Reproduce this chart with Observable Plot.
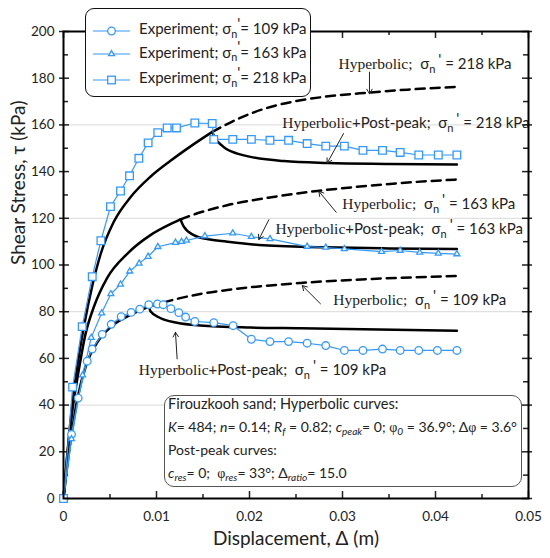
<!DOCTYPE html>
<html><head><meta charset="utf-8">
<script src="https://cdn.jsdelivr.net/npm/d3@7"></script>
<script src="https://cdn.jsdelivr.net/npm/@observablehq/plot@0.6"></script>
<style>
html,body{margin:0;padding:0;background:#fff}
#wrap{position:relative;width:550px;height:558px;font-family:Lato,"Open Sans",sans-serif;color:#222}
#wrap > svg{position:absolute;left:0;top:0}
.box{position:absolute;background:#fff;box-sizing:border-box}
.row{position:absolute;white-space:nowrap;height:18px;line-height:18px;display:block}
.row svg{vertical-align:middle}
.sub{font-size:0.72em;position:relative;top:0.32em}
.sup{position:relative;top:-0.35em}
.ser{font-family:"Liberation Serif",serif}
</style></head><body><div id="wrap"></div>
<script>
// ---------- data ----------
const stressLevels = [109, 163, 218];

const exp109X = [0, 0.00086, 0.00158, 0.00255, 0.00308, 0.00416, 0.00513, 0.0062, 0.00728, 0.0082, 0.00917, 0.0101, 0.01072, 0.01155, 0.0124, 0.01313, 0.01412, 0.01616, 0.01824, 0.0202, 0.0222, 0.0242, 0.0262, 0.0282, 0.0302, 0.0322, 0.0343, 0.0362, 0.0382, 0.0402, 0.0423];
const exp109Y = [0, 27.5, 43.0, 58.8, 64.0, 70.3, 74.6, 77.9, 79.7, 81.1, 83.0, 83.3, 83.0, 81.3, 79.6, 77.7, 75.8, 75.3, 74.0, 68.2, 67.2, 67.2, 66.5, 65.5, 63.4, 63.4, 64.0, 63.4, 63.4, 63.4, 63.4];

const exp163X = [0, 0.00086, 0.00205, 0.00298, 0.0041, 0.00509, 0.00613, 0.00712, 0.00813, 0.0091, 0.01014, 0.01204, 0.01269, 0.01322, 0.0152, 0.0182, 0.0202, 0.0222, 0.0262, 0.0282, 0.0302, 0.0342, 0.0362, 0.0383, 0.0403, 0.0423];
const exp163Y = [0, 25.5, 52.8, 68.9, 79.4, 87.6, 91.7, 97.3, 100.7, 103.6, 107.8, 109.6, 110.0, 110.5, 112.4, 113.6, 112.1, 111.2, 107.9, 107.5, 106.9, 105.7, 106.2, 105.4, 105.0, 104.7];

const exp218X = [0, 0.00098, 0.00201, 0.00309, 0.00402, 0.00505, 0.00613, 0.0071, 0.0081, 0.0091, 0.01014, 0.01115, 0.01215, 0.01412, 0.01599, 0.01616, 0.0182, 0.0202, 0.0222, 0.0242, 0.0262, 0.0282, 0.0302, 0.0322, 0.0343, 0.0362, 0.0382, 0.0403, 0.0423];
const exp218Y = [0, 47.7, 73.6, 95.0, 110.4, 125.0, 131.7, 138.2, 145.7, 152.3, 156.7, 158.7, 158.7, 160.8, 160.6, 153.8, 153.8, 153.8, 153.4, 153.4, 152.0, 150.9, 150.9, 149.1, 149.1, 148.2, 147.1, 147.1, 147.1];

// model curves
const hyp218X = [0, 0.0005, 0.001, 0.0015, 0.00219, 0.00309, 0.00398, 0.00541, 0.0072, 0.00935, 0.0115, 0.01366, 0.016];
const hyp218Y = [0, 23, 42, 57, 73.5, 91, 104.5, 118.5, 129, 137.8, 144.6, 150.8, 157.0];
const dash218X = [0.016, 0.019, 0.0219, 0.025, 0.028, 0.0327, 0.037, 0.0422];
const dash218Y = [157.0, 163.0, 167.3, 170.2, 172.0, 173.8, 175.1, 176.3];
const post218X = [0.016, 0.01616, 0.0172, 0.0187, 0.0201, 0.0237, 0.0284, 0.035, 0.0423];
const post218Y = [157.0, 155.4, 150.6, 147.7, 146.3, 144.5, 143.7, 143.3, 143.0];

const hyp163X = [0, 0.0005, 0.001, 0.0016, 0.00237, 0.00326, 0.0047, 0.00685, 0.00935, 0.0115, 0.01258];
const hyp163Y = [0, 22, 39, 54, 70.5, 82, 94.5, 104.8, 112.8, 117.5, 119.5];
const dash163X = [0.01258, 0.0133, 0.0176, 0.022, 0.0273, 0.033, 0.038, 0.0423];
const dash163Y = [119.5, 120.6, 125.6, 128.8, 131.7, 134.0, 135.6, 136.6];
const post163X = [0.01258, 0.01294, 0.014, 0.01545, 0.0176, 0.021, 0.028, 0.035, 0.0423];
const post163Y = [119.5, 116.4, 112.8, 111.1, 110.0, 108.6, 107.6, 107.1, 106.8];

const hyp109X = [0, 0.0005, 0.001, 0.00147, 0.00255, 0.0038, 0.0054, 0.0072, 0.0092];
const hyp109Y = [0, 17, 31, 42.3, 58.5, 67.9, 74.4, 78.6, 82.2];
const dash109X = [0.0092, 0.0104, 0.0147, 0.0176, 0.0255, 0.033, 0.0423];
const dash109Y = [82.2, 83.6, 87.6, 89.3, 92.3, 94.0, 95.3];
const post109X = [0.0092, 0.00935, 0.0104, 0.0122, 0.0147, 0.0201, 0.0255, 0.0423];
const post109Y = [82.2, 80.2, 77.3, 75.3, 74.1, 73.2, 72.9, 71.8];

// tick values
const xMajor = [0, 0.01, 0.02, 0.03, 0.04, 0.05];
const xMinor = [0.005, 0.015, 0.025, 0.035, 0.045];
const yMajor = [0, 20, 40, 60, 80, 100, 120, 140, 160, 180, 200];
const yMinor = [10, 30, 50, 70, 90, 110, 130, 150, 170, 190];
const yGrid = [40, 80, 120, 160];

// annotations
const annLabels = ["Hyperbolic;", "Hyperbolic+Post-peak;", "Hyperbolic;", "Hyperbolic+Post-peak;", "Hyperbolic;", "Hyperbolic+Post-peak;"];
const annStress = [218, 218, 163, 163, 109, 109];
const annX = [0.02957, 0.02352, 0.02997, 0.0228, 0.0290, 0.0081];
const annY = [186.2, 160.6, 126.0, 115.3, 84.8, 54.8];
const arrX1 = [0.0329, 0.03011, 0.02932, 0.02208, 0.02763, 0.01222];
const arrY1 = [182.6, 156.3, 122.6, 119.4, 83.4, 59.8];
const arrX2 = [0.0329, 0.02835, 0.02745, 0.0210, 0.02567, 0.01204];
const arrY2 = [173.3, 143.6, 131.6, 110.9, 91.2, 71.2];

// ---------- tables ----------
const zip = (xs, ys, extra) => xs.map((x, i) => ({x, y: ys[i], ...extra}));
const exp = [
  ...zip(exp109X, exp109Y, {s: 109}),
  ...zip(exp163X, exp163Y, {s: 163}),
  ...zip(exp218X, exp218Y, {s: 218})
];
const solid = [
  ...zip(hyp218X, hyp218Y, {c: "h218"}), ...zip(post218X, post218Y, {c: "p218"}),
  ...zip(hyp163X, hyp163Y, {c: "h163"}), ...zip(post163X, post163Y, {c: "p163"}),
  ...zip(hyp109X, hyp109Y, {c: "h109"}), ...zip(post109X, post109Y, {c: "p109"})
];
const dashed = [
  ...zip(dash218X, dash218Y, {c: "d218"}),
  ...zip(dash163X, dash163Y, {c: "d163"}),
  ...zip(dash109X, dash109Y, {c: "d109"})
];
const ann = annLabels.map((t, i) => ({t, s: annStress[i], x: annX[i], y: annY[i]}));
const arrows = arrX1.map((x1, i) => ({x1, y1: arrY1[i], x2: arrX2[i], y2: arrY2[i]}));

const blue = "#3399ff";
const pxX = 9300, pxY = 2.335; // approx px per unit, only for tick lengths
const tx = px => px / pxX, ty = px => px / pxY;

const chart = Plot.plot({
  width: 550, height: 558,
  marginLeft: 63, marginRight: 22, marginTop: 31, marginBottom: 60,
  style: {fontFamily: "Lato, 'Open Sans', sans-serif", fontSize: "13.5px", color: "#222", background: "white"},
  x: {domain: [0, 0.05]},
  y: {domain: [0, 200]},
  marks: [
    Plot.ruleY(yGrid, {stroke: "#d9d9d9", strokeWidth: 1}),
    // ticks
    Plot.ruleX(xMajor, {x: d => d, y1: 0, y2: ty(7), stroke: "#222", strokeWidth: 1.5}),
    Plot.ruleX(xMinor, {x: d => d, y1: 0, y2: ty(4), stroke: "#222", strokeWidth: 1.5}),
    Plot.ruleX(xMajor, {x: d => d, y1: 200, y2: 200 - ty(7), stroke: "#222", strokeWidth: 1.5}),
    Plot.ruleX(xMinor, {x: d => d, y1: 200, y2: 200 - ty(4), stroke: "#222", strokeWidth: 1.5}),
    Plot.ruleY(yMajor, {y: d => d, x1: -tx(4), x2: tx(6), stroke: "#222", strokeWidth: 1.5}),
    Plot.ruleY(yMinor, {y: d => d, x1: 0, x2: tx(5), stroke: "#222", strokeWidth: 1.5}),
    Plot.ruleY(yMajor, {y: d => d, x1: 0.05 - tx(6), x2: 0.05 + tx(4), stroke: "#222", strokeWidth: 1.5}),
    Plot.ruleY(yMinor, {y: d => d, x1: 0.05 - tx(5), x2: 0.05, stroke: "#222", strokeWidth: 1.5}),
    Plot.axisX({ticks: xMajor, tickSize: 0, tickPadding: 13, label: null, tickFormat: d => d === 0 ? "0" : d.toFixed(2)}),
    Plot.axisY({ticks: yMajor, tickSize: 0, tickPadding: 9, label: null, tickFormat: d => String(d)}),
    Plot.text(["Displacement, \u0394 (m)"], {frameAnchor: "bottom", dy: 46, fontSize: 19, fill: "#222"}),
    Plot.text(["Shear Stress, \u03c4 (kPa)"], {frameAnchor: "left", dx: -45, rotate: -90, fontSize: 19, fill: "#222"}),
    // model curves
    Plot.line(dashed, {x: "x", y: "y", z: "c", stroke: "black", strokeWidth: 2.5, strokeDasharray: "9,6", curve: "monotone-x"}),
    Plot.line(solid, {x: "x", y: "y", z: "c", stroke: "black", strokeWidth: 2.5, curve: "monotone-x"}),
    // experiments
    Plot.line(exp, {x: "x", y: "y", z: "s", stroke: blue, strokeWidth: 1.2}),
    Plot.dot(exp.filter(d => d.s === 109), {x: "x", y: "y", r: 3.8, symbol: "circle", stroke: blue, fill: "white", strokeWidth: 1.3}),
    Plot.dot(exp.filter(d => d.s === 163), {x: "x", y: "y", r: 2.2, symbol: "triangle", stroke: blue, fill: "white", strokeWidth: 1.3}),
    Plot.dot(exp.filter(d => d.s === 218), {x: "x", y: "y", r: 4.3, symbol: "square", stroke: blue, fill: "white", strokeWidth: 1.3}),
    // annotations
    Plot.arrow(arrows, {x1: "x1", y1: "y1", x2: "x2", y2: "y2", stroke: "#222", strokeWidth: 1, headLength: 8, bend: 0}),
    Plot.text(ann, {x: "x", y: "y", text: "t", textAnchor: "start", fontSize: 15, fill: "#222", ariaLabel: "annotation"}),
    Plot.frame({stroke: "black", strokeWidth: 2})
  ]
});

const wrap = document.getElementById("wrap");
wrap.appendChild(chart);

// rich annotation text: serif "Hyperbolic", subscript n, prime
let annNodes = d3.select(chart).selectAll('g[aria-label="annotation"] text');
if (annNodes.empty()) annNodes = d3.select(chart).selectAll('g[aria-label="text"]').filter((d, i, n) => n[i].querySelectorAll("text").length === ann.length).selectAll("text");
annNodes.each(function(d, i) {
  const a = ann[i];
  const t = d3.select(this).text(null).style("white-space", "pre");
  t.append("tspan").attr("font-family", "'Liberation Serif', serif").attr("font-size", 15.5).text("Hyperbolic");
  const rest = a.t.slice(10);
  if (rest === ";") t.append("tspan").attr("font-family", "'Liberation Serif', serif").attr("font-size", 15.5).text(rest);
  else t.append("tspan").text(rest);
  t.append("tspan").text("  \u03c3");
  t.append("tspan").attr("font-size", 11).attr("dy", 4).text("n");
  t.append("tspan").attr("dy", -8).attr("dx", 3).text("'");
  t.append("tspan").attr("dy", 4).text(" = " + a.s + " kPa");
});

// legend
const legMarker = {
  109: `<circle cx="18.5" cy="8" r="3.8" fill="white" stroke="${blue}" stroke-width="1.3"/>`,
  163: `<path d="${d3.symbol(d3.symbolTriangle, Math.PI * 2.2 * 2.2)()}" transform="translate(18.5,8)" fill="white" stroke="${blue}" stroke-width="1.3"/>`,
  218: `<rect x="14.7" y="4.2" width="7.6" height="7.6" fill="white" stroke="${blue}" stroke-width="1.3"/>`
};
const legRowY = [28.3, 51.7, 77.3];
let html = `<div class="box" style="left:85px;top:8px;width:226px;height:89px;border:1.5px solid #111;border-radius:9px"></div>`;
stressLevels.forEach((s, i) => {
  html += `<div class="row" style="left:93px;top:${legRowY[i] - 9}px;font-size:15px"><svg width="37" height="16" style="margin-right:9px"><line x1="0" y1="8" x2="37" y2="8" stroke="${blue}" stroke-width="1.2"/>${legMarker[s]}</svg><span>Experiment; \u03c3<span class="sub">n</span><span class="sup">'</span>= ${s} kPa</span></div>`;
});
// parameter box
html += `<div class="box" style="left:164px;top:395px;width:358px;height:92px;border:1.2px solid #555;border-radius:10px"></div>`;
const boxLines = [
  `Firouzkooh sand; Hyperbolic curves:`,
  `<i>K</i>= 484; <i>n</i>= 0.14; <i>R<span class="sub">f</span></i> = 0.82; <i>c<span class="sub">peak</span></i>= 0; <span class="ser">\u03c6</span><span class="sub"><i>0</i></span> = 36.9\u00b0; \u0394<span class="ser">\u03c6</span> = 3.6\u00b0`,
  `Post-peak curves:`,
  `<i>c<span class="sub">res</span></i>= 0;&nbsp; <span class="ser">\u03c6</span><span class="sub"><i>res</i></span>= 33\u00b0; \u0394<span class="sub"><i>ratio</i></span>= 15.0`
];
const boxY = [404, 427, 450, 473];
boxLines.forEach((l, i) => {
  html += `<div class="row" style="left:168px;top:${boxY[i] - 9}px;font-size:${i === 0 ? 14.5 : 14}px">${l}</div>`;
});
wrap.insertAdjacentHTML("beforeend", html);
</script></body></html>
